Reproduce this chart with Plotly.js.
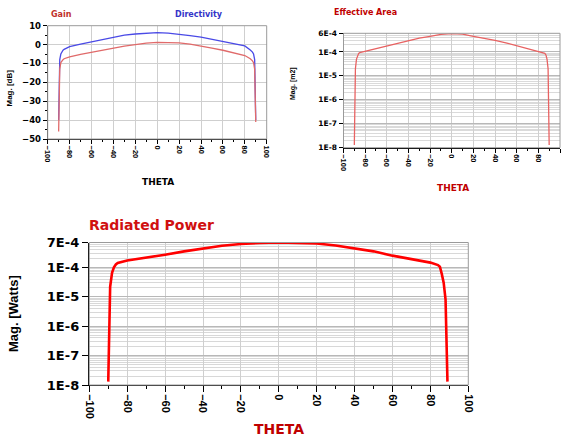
<!DOCTYPE html>
<html><head><meta charset="utf-8">
<script src="https://cdn.plot.ly/plotly-3.0.1.min.js"></script>
<style>html,body{margin:0;padding:0;background:#fff}#chart{width:563px;height:439px}</style>
</head><body><div id="chart"></div>
<script>
// ---- data ----
const thetaGD = [-90,-89,-88,-87,-86,-85,-80,-70,-60,-50,-40,-30,-20,-10,0,10,20,30,40,50,60,70,80,85,86,87,88,89,90];
const directivityDb = [-40,-8,-5,-3.8,-3,-2.5,-1.1,0.3,1.5,3.0,4.2,5.0,5.6,6.0,6.3,6.1,5.6,4.8,3.9,2.7,1.5,0.4,-0.7,-2.9,-3.4,-4,-5,-8,-40];
const gainDb = [-46,-13,-9.5,-8.5,-8,-7.5,-6.5,-5.2,-4,-2.8,-1.8,-0.8,0,0.8,1.2,1.2,0.9,0.2,-0.7,-1.9,-3.0,-4.3,-5.8,-7.5,-8,-8.6,-9.6,-13,-41];

const thetaEA = [-90,-89,-88,-87,-86,-85,-80,-70,-60,-50,-40,-30,-20,-10,0,10,20,30,40,50,60,70,80,85,86,87,88,89,90];
const effAreaM2 = [1.3e-8,2e-5,5e-5,7.5e-5,8.7e-5,9.3e-5,1.06e-4,1.4e-4,1.84e-4,2.4e-4,3.06e-4,3.8e-4,4.5e-4,5.4e-4,5.85e-4,5.5e-4,4.5e-4,3.8e-4,3.06e-4,2.4e-4,1.84e-4,1.4e-4,1.06e-4,9.3e-5,8.7e-5,7.5e-5,5e-5,2e-5,1.3e-8];

const thetaPow = [-90,-89,-88,-87,-86,-85,-80,-70,-60,-50,-40,-30,-20,-10,0,10,20,30,40,50,60,70,80,84,85,86,87,88,89];
const radPowerW = [1.3e-8,2.2e-5,6.5e-5,1.0e-4,1.25e-4,1.4e-4,1.7e-4,2.1e-4,2.7e-4,3.5e-4,4.4e-4,5.4e-4,6.2e-4,6.8e-4,7.0e-4,6.9e-4,6.5e-4,5.5e-4,4.5e-4,3.5e-4,2.5e-4,1.9e-4,1.45e-4,1.2e-4,1.05e-4,6e-5,3e-5,8e-6,1.3e-8];

const thetaTicks = [-100,-80,-60,-40,-20,0,20,40,60,80,100];
const dbTicks = [-50,-40,-30,-20,-10,0,10];
const eaTickVals = [1e-8,1e-7,1e-6,1e-5,1e-4,6e-4];
const eaTickText = ['1E-8','1E-7','1E-6','1E-5','1E-4','6E-4'];
const powTickVals = [1e-8,1e-7,1e-6,1e-5,1e-4,7e-4];
const powTickText = ['1E-8','1E-7','1E-6','1E-5','1E-4','7E-4'];

// ---- styling ----
const H = 'DejaVu Sans, sans-serif';
const V = 'Liberation Sans, Arial, sans-serif';
const W = 563, Ht = 439;
const px = v => v / W;
const py = v => 1 - v / Ht;

function xax(domain, tf, extra) {
  return Object.assign({
    domain: domain, range: [-100, 100], tickmode: 'array', tickvals: thetaTicks,
    tickangle: 90, ticks: 'outside', ticklen: 4, tickcolor: '#000', tickwidth: 1,
    showgrid: true, gridcolor: '#cfcfcf', gridwidth: 1, zeroline: false,
    showline: true, linecolor: '#000', linewidth: 1,
    tickfont: {family: V, size: tf, color: '#000', weight: 700},
    minor: {dtick: 10, ticks: 'outside', ticklen: 2, tickcolor: '#000', showgrid: false}
  }, extra || {});
}

const traces = [
  {x: thetaGD, y: directivityDb, xaxis: 'x', yaxis: 'y', mode: 'lines', line: {color: '#4a4ae6', width: 1.3}, name: 'Directivity'},
  {x: thetaGD, y: gainDb, xaxis: 'x', yaxis: 'y', mode: 'lines', line: {color: '#e06a6a', width: 1.3}, name: 'Gain'},
  {x: thetaEA, y: effAreaM2, xaxis: 'x2', yaxis: 'y2', mode: 'lines', line: {color: '#e86262', width: 1.3}, name: 'Effective Area'},
  {x: thetaPow, y: radPowerW, xaxis: 'x3', yaxis: 'y3', mode: 'lines', line: {color: '#ff0000', width: 2.6}, name: 'Radiated Power'}
];

const frame = (xr, yr) => ({type: 'rect', xref: xr, yref: yr, x0: 0, x1: 1, y0: 0, y1: 1, line: {color: '#9a9a9a', width: 1}, layer: 'above'});

const ann = (text, x, y, size, color, fam, opts) => Object.assign({
  text: text, x: x, y: y, xref: 'paper', yref: 'paper', showarrow: false,
  xanchor: 'left', yanchor: 'middle', font: {family: fam, size: size, color: color, weight: 700}
}, opts || {});

const layout = {
  width: W, height: Ht, margin: {l: 0, r: 0, t: 0, b: 0},
  paper_bgcolor: '#fff', plot_bgcolor: '#fff', showlegend: false,
  xaxis: xax([px(47.7), px(266.7)], 7.5, {anchor: 'y'}),
  yaxis: {
    domain: [py(139), py(25.7)], range: [-50, 10], tickmode: 'array', tickvals: dbTicks,
    ticks: 'outside', ticklen: 4, tickcolor: '#000', showgrid: true, gridcolor: '#cfcfcf',
    zeroline: false, showline: true, linecolor: '#000', anchor: 'x',
    tickfont: {family: H, size: 8.5, color: '#000', weight: 700},
    minor: {dtick: 5, ticks: 'outside', ticklen: 2, tickcolor: '#000', showgrid: false}
  },
  xaxis2: xax([px(343.5), px(560)], 7.5, {anchor: 'y2'}),
  yaxis2: {
    domain: [py(147.7), py(33.3)], type: 'log', range: [-8, Math.log10(6e-4)],
    tickmode: 'array', tickvals: eaTickVals, ticktext: eaTickText,
    ticks: 'outside', ticklen: 4, tickcolor: '#000', showgrid: true, gridcolor: '#b8b8b8',
    zeroline: false, showline: true, linecolor: '#000', anchor: 'x2',
    tickfont: {family: H, size: 7.5, color: '#000', weight: 700},
    minor: {dtick: 'D1', showgrid: true, gridcolor: '#dadada', ticks: ''}
  },
  xaxis3: xax([px(89.3), px(468.3)], 11, {anchor: 'y3', ticklen: 6, minor: {dtick: 10, ticks: 'outside', ticklen: 3, tickcolor: '#000', showgrid: false}}),
  yaxis3: {
    domain: [py(385), py(242.5)], type: 'log', range: [-8, Math.log10(7e-4)],
    tickmode: 'array', tickvals: powTickVals, ticktext: powTickText,
    ticks: 'outside', ticklen: 6, tickcolor: '#000', showgrid: true, gridcolor: '#b8b8b8',
    zeroline: false, showline: true, linecolor: '#000', linewidth: 1.5, anchor: 'x3',
    tickfont: {family: H, size: 13, color: '#000', weight: 700},
    minor: {dtick: 'D1', showgrid: true, gridcolor: '#d8d8d8', ticks: ''}
  },
  shapes: [frame('x domain', 'y domain'), frame('x2 domain', 'y2 domain'), frame('x3 domain', 'y3 domain')],
  annotations: [
    ann('Gain', px(49), py(15), 8, '#c0302a', H),
    ann('Directivity', px(173), py(15), 8, '#3434c8', H),
    ann('Mag. [dB]', px(8.5), py(88), 8, '#000', V, {textangle: -90, xanchor: 'center'}),
    ann('THETA', px(158), py(182), 9, '#000', H, {xanchor: 'center'}),
    ann('Effective Area', px(331.7), py(12.7), 8, '#c00000', H),
    ann('Mag. [m2]', px(293), py(84), 7, '#000', V, {textangle: -90, xanchor: 'center'}),
    ann('THETA', px(453), py(188.3), 9, '#c00000', H, {xanchor: 'center'}),
    ann('Radiated Power', px(87), py(225), 14, '#d01010', H),
    ann('Mag. [Watts]', px(13), py(314), 13, '#000', V, {textangle: -90, xanchor: 'center'}),
    ann('THETA', px(279), py(429), 14, '#c00000', H, {xanchor: 'center'})
  ]
};

Plotly.newPlot('chart', traces, layout, {displayModeBar: false, staticPlot: true});
</script>
</body></html>
